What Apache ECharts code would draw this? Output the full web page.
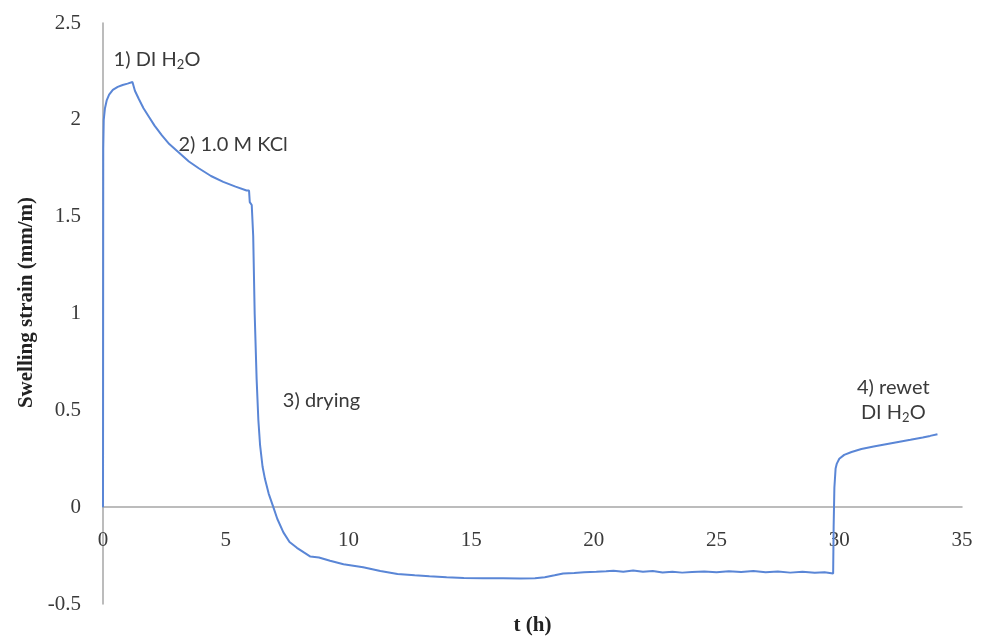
<!DOCTYPE html>
<html>
<head>
<meta charset="utf-8">
<script src="https://cdn.jsdelivr.net/npm/echarts@6/dist/echarts.min.js"></script>
<style>
  html, body { margin: 0; padding: 0; background: #fff; }
  #chart { width: 988px; height: 636px; }
</style>
</head>
<body>
<div id="chart"></div>
<script>
// time (h) and swelling strain (mm/m)
const hours = [
  0, 0.01, 0.03, 0.08, 0.15, 0.25, 0.4, 0.6, 0.8, 1.0, 1.2,
  1.3, 1.45, 1.65, 1.85, 2.1, 2.4, 2.7, 3.1, 3.5, 3.9, 4.4, 4.9, 5.4, 5.85,
  5.95, 5.98, 6.06, 6.1, 6.12, 6.18, 6.26, 6.33, 6.4, 6.5, 6.6, 6.75, 6.94,
  7.1, 7.35, 7.6, 7.9, 8.2, 8.45, 8.5, 8.8, 9.25, 9.8, 10.6, 11.3, 12.0,
  12.7, 13.3, 14.0, 14.7, 15.5, 16.3, 17.0, 17.6, 18.0, 18.4, 18.75, 19.2,
  19.6, 20.1, 20.5, 20.8, 21.2, 21.6, 22.0, 22.4, 22.8, 23.2, 23.6, 24.0,
  24.5, 25.0, 25.5, 26.0, 26.5, 27.0, 27.5, 28.0, 28.5, 29.0, 29.4, 29.75,
  29.77, 29.8, 29.85, 29.9, 30.0, 30.2, 30.5, 30.9, 31.4, 31.9, 32.4, 32.9,
  33.4, 33.7, 34.0
];
const strain = [
  0, 1.85, 2.0, 2.06, 2.10, 2.13, 2.155, 2.17, 2.18, 2.187, 2.195,
  2.15, 2.11, 2.06, 2.02, 1.97, 1.92, 1.875, 1.83, 1.785, 1.75, 1.71, 1.68, 1.655, 1.635,
  1.635, 1.575, 1.56, 1.55, 1.4, 1.0, 0.66, 0.45, 0.32, 0.21, 0.145, 0.07, 0.0,
  -0.06, -0.13, -0.18, -0.21, -0.235, -0.255, -0.245, -0.26, -0.277, -0.295, -0.31, -0.33, -0.345,
  -0.352, -0.357, -0.362, -0.366, -0.367, -0.367, -0.368, -0.367, -0.362, -0.352, -0.342, -0.340,
  -0.336, -0.334, -0.331, -0.328, -0.333, -0.327, -0.334, -0.330, -0.337, -0.333, -0.338, -0.335,
  -0.332, -0.336, -0.331, -0.335, -0.330, -0.336, -0.332, -0.338, -0.334, -0.339, -0.336, -0.342,
  -0.1, 0.1, 0.2, 0.225, 0.25, 0.27, 0.285, 0.3, 0.313, 0.325, 0.337, 0.348,
  0.36, 0.368, 0.377
];
const xTicks = { min: 0, max: 35, step: 5 };
const yTicks = { min: -0.5, max: 2.5, step: 0.5 };

// stage labels anchored in data coordinates [t, strain]
const notes = [
  { at: [2.2, 2.31], text: "{a|1) DI H}{s|2}{a|O}" },
  { at: [5.3, 1.87], text: "{a|2) 1.0 M KCl}" },
  { at: [8.9, 0.55], text: "{a|3) drying}" },
  { at: [32.2, 0.62], text: "{a|4) rewet}" },
  { at: [32.2, 0.49], text: "{a|DI H}{s|2}{a|O}" },
];

const serif = "'Liberation Serif', 'Times New Roman', serif";
const sans = "Lato, 'Open Sans', sans-serif";

const chart = echarts.init(document.getElementById("chart"), null, { renderer: "canvas" });
const gridBox = { left: 103, right: 26, top: 23, bottom: 32 };

const option = {
  animation: false,
  backgroundColor: "#fff",
  grid: Object.assign({ containLabel: false, outerBoundsMode: "none" }, gridBox),
  xAxis: {
    type: "value",
    min: xTicks.min, max: xTicks.max, interval: xTicks.step,
    name: "t (h)", nameLocation: "middle", nameGap: 108,
    nameTextStyle: { fontFamily: serif, fontWeight: "bold", fontSize: 21, color: "#222" },
    axisLine: { onZero: false, lineStyle: { color: "#a6a6a6", width: 1.5 } },
    axisTick: { show: false },
    splitLine: { show: false },
    axisLabel: { margin: 23, fontFamily: serif, fontSize: 21, color: "#3a3a3a" },
  },
  yAxis: {
    type: "value",
    min: yTicks.min, max: yTicks.max, interval: yTicks.step,
    name: "Swelling strain (mm/m)", nameLocation: "middle", nameGap: 64, nameRotate: 90,
    nameTextStyle: { fontFamily: serif, fontWeight: "bold", fontSize: 21, color: "#222", padding: [0, 0, 0, 22] },
    axisLine: { show: true, lineStyle: { color: "#a6a6a6", width: 1.5 } },
    axisTick: { show: false },
    splitLine: { show: false },
    axisLabel: { margin: 22, fontFamily: serif, fontSize: 21, color: "#3a3a3a" },
  },
  series: [{
    type: "line",
    data: hours.map((t, i) => [t, strain[i]]),
    showSymbol: false,
    lineStyle: { color: "#5a86d6", width: 2 },
  }],
};
chart.setOption(option);

// lift the x axis (line + labels) up to strain = 0, as in the original
const zeroY = chart.convertToPixel({ yAxisIndex: 0 }, 0);
const bottomY = 636 - gridBox.bottom;
chart.setOption({ xAxis: { offset: -(bottomY - zeroY) } });

// place stage labels through the chart's own coordinate conversion
chart.setOption({
  graphic: notes.map((n) => {
    const p = chart.convertToPixel({ gridIndex: 0 }, n.at);
    return {
      type: "text",
      x: p[0], y: p[1],
      style: {
        text: n.text,
        align: "center",
        verticalAlign: "middle",
        rich: {
          a: { fontFamily: sans, fontSize: 20, lineHeight: 24, fill: "#3a3a3a" },
          s: { fontFamily: sans, fontSize: 13, lineHeight: 13, fill: "#3a3a3a", verticalAlign: "bottom" },
        },
      },
    };
  }),
});
</script>
</body>
</html>
